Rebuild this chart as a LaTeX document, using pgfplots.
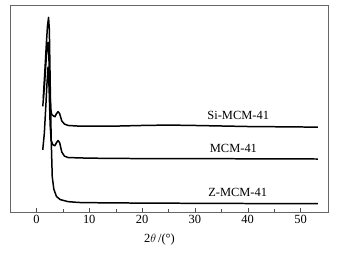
\documentclass[border=0pt]{standalone}
\usepackage{pgfplots}
\pgfplotsset{compat=1.18}
\usepackage{fontspec}
\setmainfont{Liberation Serif}
\tikzset{curve/.style={black, mark=none, line width=1.5pt, line join=round}}
\begin{document}
\begin{tikzpicture}
\begin{axis}[name=ax,
  scale only axis, width=318bp, height=207bp,
  xmin=-5, xmax=55.2, ymin=0, ymax=100,
  xtick={0,10,20,30,40,50}, minor x tick num=1,
  ytick=\empty, xtick pos=bottom, tick align=inside,
  axis line style={black!60}, tick style={black!70},
  major tick length=4pt, minor tick length=3pt,
  font=\fontsize{12.5}{14}\selectfont,
  /pgf/number format/assume math mode=true,
  xlabel={2$\theta$\,/(\textdegree)},
  xlabel style={at={(axis description cs:0.47,0)}, anchor=north, yshift=-18bp},
]
% Z-MCM-41
\addplot[curve] coordinates {(1.3,55)(1.6,68)(1.9,82)(2.1,90)(2.3,94)(2.45,88)(2.55,72)(2.66,54)(2.8,35)(3.0,17)(3.3,11)(3.8,7.5)(4.5,6)(6,5)(8,4.6)(10,4.5)(20,4.3)(30,4.2)(40,4.1)(53.3,4.0)};
% MCM-41
\addplot[curve] coordinates {(1.2,30)(1.5,38)(1.8,52)(2.0,62)(2.2,70)(2.4,60)(2.6,42)(2.8,34.5)(3.1,32.5)(3.5,32)(3.8,33.5)(4.1,34.5)(4.4,33.5)(4.8,29)(5.3,27)(6,26.3)(10,26)(20,25.8)(30,25.8)(40,25.7)(53.3,25.6)};
% Si-MCM-41
\addplot[curve] coordinates {(1.2,51)(1.5,60)(1.8,72)(2.0,79)(2.2,82)(2.35,76)(2.5,62)(2.7,50)(2.9,47)(3.2,46.5)(3.5,46)(3.8,47.5)(4.1,48.5)(4.4,47.5)(4.8,44)(5.3,42.5)(6,41.8)(8,41.5)(15,41.5)(20,41.8)(25,42)(30,41.8)(40,41.3)(53.3,41)};
\node[anchor=south] at (axis cs:38.2,43) {Si-MCM-41};
\node[anchor=south] at (axis cs:37.3,27.2) {MCM-41};
\node[anchor=south] at (axis cs:38.1,5.6) {Z-MCM-41};
\end{axis}
\path[use as bounding box] (ax.south west) ++(-10bp,-44bp) rectangle ++(351bp,256bp);
\end{tikzpicture}
\end{document}
